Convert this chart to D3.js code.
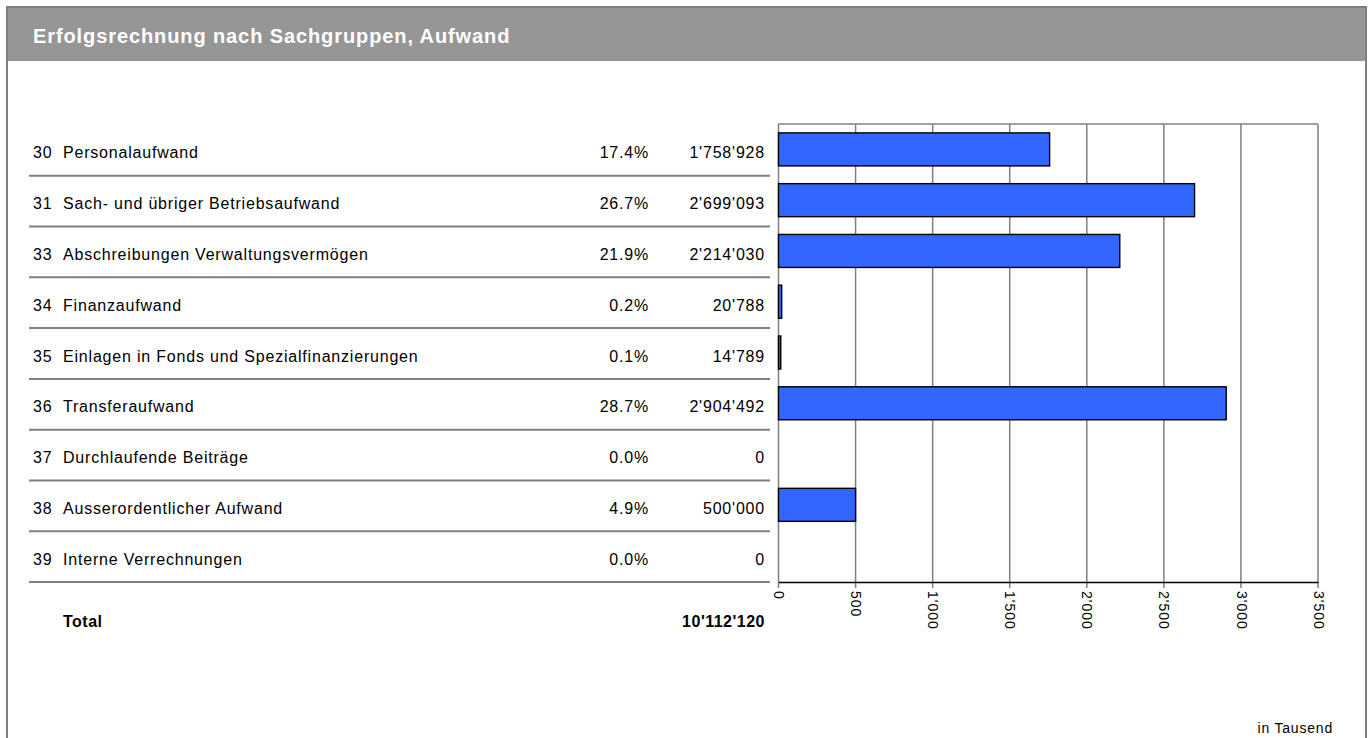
<!DOCTYPE html>
<html>
<head>
<meta charset="utf-8">
<script src="https://cdn.jsdelivr.net/npm/d3@7"></script>
<style>
  body { margin: 0; background: #fff; }
  text { font-family: "Liberation Sans", Arial, sans-serif; fill: #000; }
  .title { font-size: 20px; font-weight: bold; fill: #fff; letter-spacing: 0.9px; }
  .label, .pct, .val { font-size: 16px; letter-spacing: 0.8px; }
  .total { font-size: 16px; font-weight: bold; letter-spacing: 0.5px; }
  .xAxis text { font-size: 14px; letter-spacing: 1px; }
  .unit { font-size: 14px; letter-spacing: 0.8px; }
</style>
</head>
<body>
<script>
// Erfolgsrechnung nach Sachgruppen, Aufwand
var codes = ["30", "31", "33", "34", "35", "36", "37", "38", "39"];
var names = [
    "Personalaufwand",
    "Sach- und übriger Betriebsaufwand",
    "Abschreibungen Verwaltungsvermögen",
    "Finanzaufwand",
    "Einlagen in Fonds und Spezialfinanzierungen",
    "Transferaufwand",
    "Durchlaufende Beiträge",
    "Ausserordentlicher Aufwand",
    "Interne Verrechnungen"
];
var percents = ["17.4%", "26.7%", "21.9%", "0.2%", "0.1%", "28.7%", "0.0%", "4.9%", "0.0%"];
var amounts = [1758928, 2699093, 2214030, 20788, 14789, 2904492, 0, 500000, 0];
var totalLabel = "10'112'120";
var tickValues = [0, 500, 1000, 1500, 2000, 2500, 3000, 3500];

var width = 1372, height = 738;

var swiss = d3.formatLocale({ decimal: ".", thousands: "'", grouping: [3], currency: ["", ""] });
var fmt = swiss.format(",.0f");

var rows = codes.map((c, i) => ({
    code: c,
    name: names[i],
    pct: percents[i],
    value: amounts[i],
    k: amounts[i] / 1000
}));

var svg = d3.select("body").append("svg")
    .attr("width", width)
    .attr("height", height);

// frame + header
svg.append("rect")
    .attr("x", 7).attr("y", 7)
    .attr("width", 1359).attr("height", 760)
    .attr("fill", "#fff")
    .attr("stroke", "#7f7f7f")
    .attr("stroke-width", 2);

svg.append("rect")
    .attr("x", 8).attr("y", 8)
    .attr("width", 1357).attr("height", 53)
    .attr("fill", "#969696");

svg.append("text")
    .attr("class", "title")
    .attr("x", 33)
    .attr("y", 43)
    .text("Erfolgsrechnung nach Sachgruppen, Aufwand");

const plot = { top: 125, bottom: 582, left: 778.5, right: 1318 };

var x = d3.scaleLinear()
    .domain([0, 3500])
    .range([plot.left, plot.right]);

var y = d3.scaleBand()
    .domain(codes)
    .range([plot.top, plot.bottom]);

// grid lines
svg.append("g")
    .selectAll("line.grid")
    .data(tickValues)
    .enter()
    .append("line")
    .attr("class", "grid")
    .attr("x1", d => x(d)).attr("x2", d => x(d))
    .attr("y1", plot.top - 1).attr("y2", plot.bottom + 6)
    .attr("stroke", "#808080")
    .attr("stroke-width", 1.5);

svg.append("line")
    .attr("x1", plot.left).attr("x2", plot.right)
    .attr("y1", plot.top - 1).attr("y2", plot.top - 1)
    .attr("stroke", "#808080")
    .attr("stroke-width", 1.5);

// row separators
svg.append("g")
    .selectAll("line.sep")
    .data(rows)
    .enter()
    .append("line")
    .attr("class", "sep")
    .attr("x1", 29).attr("x2", 770)
    .attr("y1", d => y(d.code) + y.bandwidth())
    .attr("y2", d => y(d.code) + y.bandwidth())
    .attr("stroke", "#808080")
    .attr("stroke-width", 2);

// bars
var barH = y.bandwidth() * 0.65;
svg.selectAll("rect.bar")
    .data(rows.filter(d => d.value > 0))
    .enter()
    .append("rect")
    .attr("class", "bar")
    .attr("x", x(0))
    .attr("y", d => y(d.code) + (y.bandwidth() - barH) / 2 - 1)
    .attr("width", d => x(d.k) - x(0))
    .attr("height", barH)
    .attr("fill", "#3366ff")
    .attr("stroke", "#000")
    .attr("stroke-width", 1.4);

// axis
var xAxis = d3.axisBottom(x)
    .tickValues(tickValues)
    .tickSize(0)
    .tickFormat(d => swiss.format(",")(d));

var ax = svg.append("g")
    .attr("class", "axis xAxis")
    .attr("transform", `translate(0, ${plot.bottom})`)
    .call(xAxis);

ax.select(".domain").attr("stroke", "#000").attr("stroke-width", 1.5);
ax.selectAll(".tick text")
    .attr("transform", "rotate(90)")
    .attr("x", 9)
    .attr("y", 0)
    .attr("dy", "0.35em")
    .style("text-anchor", "start")
    .attr("fill", "#000");

// row texts
var mid = d => y(d.code) + y.bandwidth() / 2 + 8;

svg.selectAll("text.code")
    .data(rows).enter().append("text")
    .attr("class", "label code")
    .attr("x", 33).attr("y", mid)
    .text(d => d.code);

svg.selectAll("text.name")
    .data(rows).enter().append("text")
    .attr("class", "label name")
    .attr("x", 63).attr("y", mid)
    .text(d => d.name);

svg.selectAll("text.pct")
    .data(rows).enter().append("text")
    .attr("class", "pct")
    .attr("x", 649).attr("y", mid)
    .style("text-anchor", "end")
    .text(d => d.pct);

svg.selectAll("text.val")
    .data(rows).enter().append("text")
    .attr("class", "val")
    .attr("x", 765).attr("y", mid)
    .style("text-anchor", "end")
    .text(d => fmt(d.value));

// total
svg.append("text")
    .attr("class", "total")
    .attr("x", 63).attr("y", 627)
    .text("Total");

svg.append("text")
    .attr("class", "total")
    .attr("x", 765).attr("y", 627)
    .style("text-anchor", "end")
    .text(totalLabel);

svg.append("text")
    .attr("class", "unit")
    .attr("x", 1333).attr("y", 733)
    .style("text-anchor", "end")
    .text("in Tausend");
</script>
</body>
</html>
